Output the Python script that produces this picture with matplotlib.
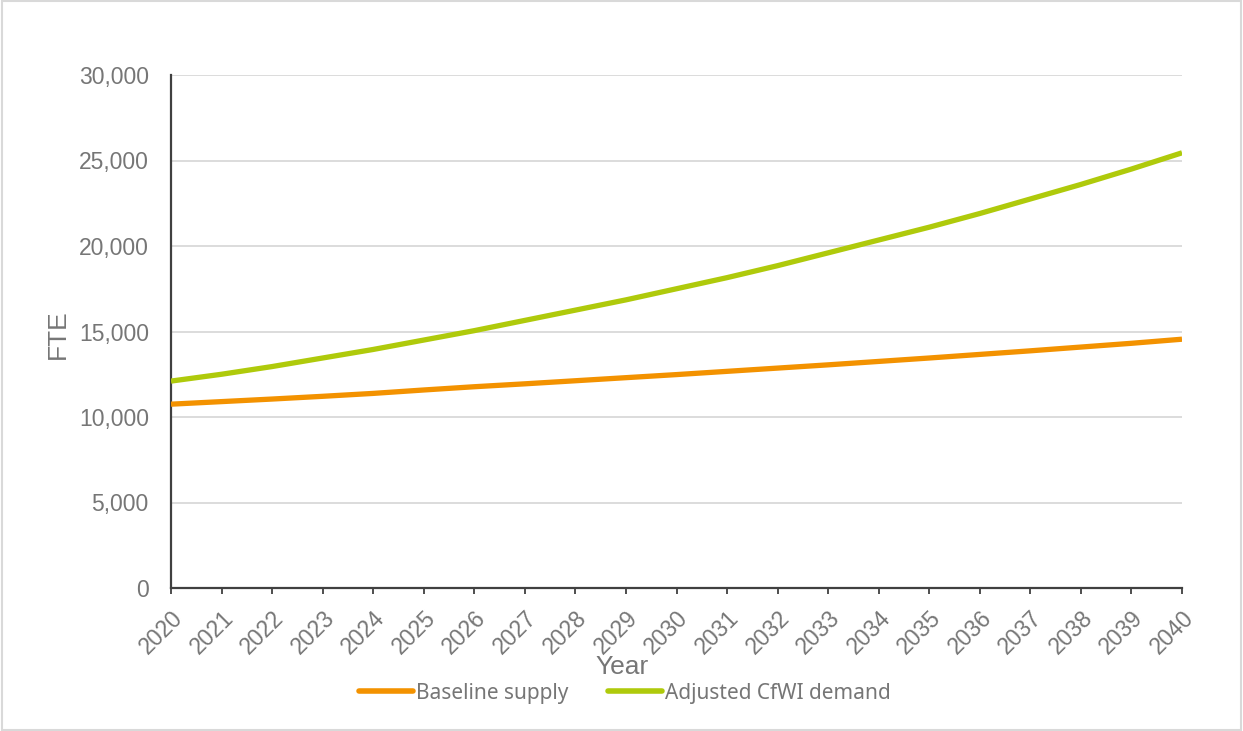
import matplotlib
matplotlib.use("Agg")
import matplotlib.pyplot as plt
from matplotlib.patches import Rectangle
from matplotlib.ticker import FuncFormatter
from matplotlib.lines import Line2D

years = list(range(2020, 2041))
baseline_supply = [10750, 10900, 11050, 11210, 11380, 11580, 11770, 11940, 12120, 12300,
                   12480, 12670, 12860, 13050, 13250, 13450, 13660, 13870, 14090, 14310, 14550]
adjusted_demand = [12100, 12500, 12950, 13450, 13950, 14500, 15050, 15650, 16250, 16850,
                   17500, 18150, 18850, 19600, 20350, 21100, 21900, 22750, 23600, 24500, 25450]
series_names = ["Baseline supply", "Adjusted CfWI demand"]
y_ticks = [0, 5000, 10000, 15000, 20000, 25000, 30000]

orange = "#F39200"
green = "#AFCA0B"
text_grey = "#767676"
axis_dark = "#404040"

fig = plt.figure(figsize=(12.43, 7.31), dpi=100)
fig.patches.append(Rectangle((0.002, 0.002), 0.996, 0.996, transform=fig.transFigure,
                             fill=False, edgecolor="#d9d9d9", linewidth=1.5))

ax = fig.add_axes([171 / 1243, 1 - 588 / 731, (1182 - 171) / 1243, (588 - 75) / 731])

ax.plot(years, baseline_supply, color=orange, linewidth=3.8, solid_capstyle="butt", zorder=3)
ax.plot(years, adjusted_demand, color=green, linewidth=3.8, solid_capstyle="butt", zorder=3)

ax.set_xlim(years[0], years[-1])
ax.set_ylim(y_ticks[0], y_ticks[-1])
ax.set_yticks(y_ticks)
ax.yaxis.set_major_formatter(FuncFormatter(lambda v, p: f"{int(v):,}"))
ax.set_xticks(years)
ax.set_xticklabels([str(y) for y in years], rotation=45, ha="right",
                   rotation_mode="anchor")

ax.grid(axis="y", color="#d9d9d9", linewidth=1.3, zorder=0)
ax.set_axisbelow(True)
for side in ["top", "right"]:
    ax.spines[side].set_visible(False)
ax.spines["left"].set_color(axis_dark)
ax.spines["bottom"].set_color(axis_dark)
ax.spines["left"].set_linewidth(1.6)
ax.spines["bottom"].set_linewidth(1.6)

ax.tick_params(axis="y", length=0, pad=16, labelsize=16.5, labelcolor=text_grey)
ax.tick_params(axis="x", length=4.5, width=1.3, color=axis_dark, direction="out",
               pad=9, labelsize=16.5, labelcolor=text_grey)
for lbl in ax.get_xticklabels() + ax.get_yticklabels():
    lbl.set_fontfamily("Liberation Sans")

fig.text(58 / 1243, 1 - 334 / 731, "FTE", rotation=90, ha="center", va="center",
         fontsize=19, color=text_grey, family="Liberation Sans")
fig.text(622 / 1243, 1 - 667 / 731, "Year", ha="center", va="center",
         fontsize=19, color=text_grey, family="Liberation Sans")

handles = [Line2D([0], [0], color=orange, linewidth=4, solid_capstyle="round"),
           Line2D([0], [0], color=green, linewidth=4, solid_capstyle="round")]
leg = fig.legend(handles, series_names, loc="center", bbox_to_anchor=(625 / 1243, 1 - 693 / 731),
                 ncol=2, frameon=False, handlelength=2.6, handletextpad=0.15,
                 columnspacing=1.9, prop={"family": "Noto Sans", "size": 15})
for t in leg.get_texts():
    t.set_color(text_grey)

fig.savefig("out.png", dpi=100)
